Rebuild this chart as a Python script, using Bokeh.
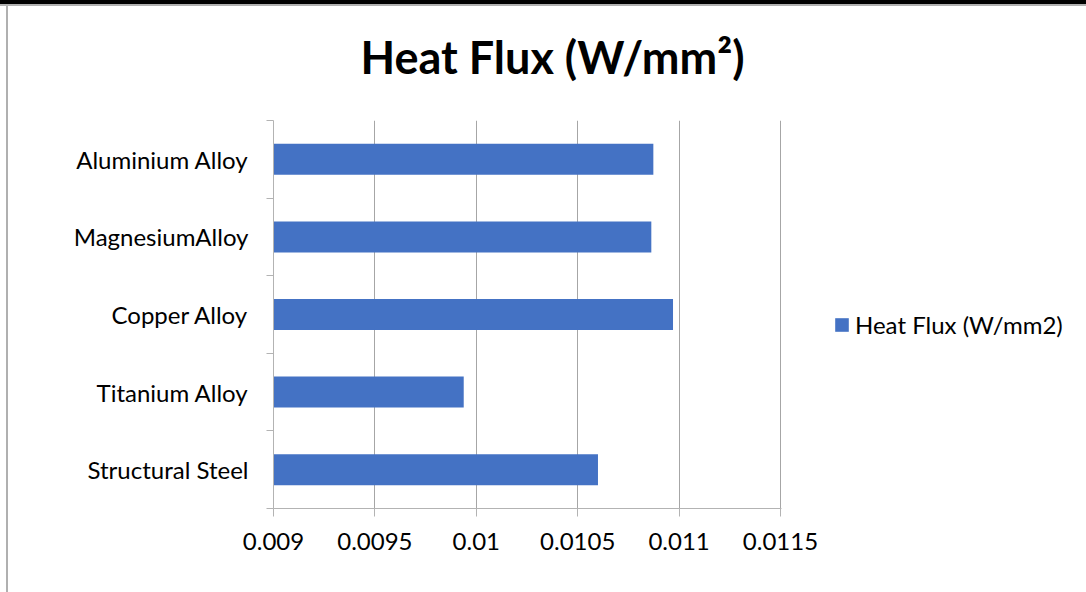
from bokeh.plotting import figure
from bokeh.models import (Range1d, FixedTicker, Legend, LegendItem,
                          ColumnDataSource, Title)
from bokeh.embed import file_html
from bokeh.resources import INLINE

# Heat flux per material (W/mm^2)
materials = ["Structural Steel", "Titanium Alloy", "Copper Alloy",
             "MagnesiumAlloy", "Aluminium Alloy"]
heat_flux = [0.01060, 0.009938, 0.01097, 0.010863, 0.010873]

x_ticks = [0.009, 0.0095, 0.01, 0.0105, 0.011, 0.0115]
x_tick_labels = ["0.009", "0.0095", "0.01", "0.0105", "0.011", "0.0115"]

title_text = "Heat Flux (W/mm\u00b2)"
series_name = "Heat Flux (W/mm2)"

FONT = "Lato"
BAR = "#4472C4"
GRID = "#a6a6a6"
AXIS = "#b3b3b3"

FRAME_W, FRAME_H = 508, 388
LEFT, RIGHT, TOP, BOTTOM = 273, 305, 120, 84
# one extra pixel of range so the last grid line stays inside the frame
x_pad = (x_ticks[-1] - x_ticks[0]) / (FRAME_W - 1)

p = figure(frame_width=FRAME_W, frame_height=FRAME_H, title=None,
           output_backend="svg", toolbar_location=None,
           x_range=Range1d(x_ticks[0], x_ticks[-1] + x_pad),
           y_range=Range1d(0, len(materials)),
           min_border_left=LEFT, min_border_right=RIGHT,
           min_border_top=TOP, min_border_bottom=BOTTOM)
p.outline_line_color = None
p.background_fill_color = "white"
p.border_fill_color = None
# page rules around the chart (top heavy rule, grey rule, left rule)
p.styles = {
    "background-color": "white",
    "background-image": ("linear-gradient(#000,#000), "
                         "linear-gradient(#b0b0b0,#b0b0b0), "
                         "linear-gradient(#b0b0b0,#b0b0b0)"),
    "background-size": "100% 4px, 100% 2px, 2px 100%",
    "background-position": "0 0, 0 4px, 6px 5px",
    "background-repeat": "no-repeat",
}

# blank spacer between the plot area and the title
p.add_layout(Title(text=" ", text_font_size="10px", standoff=22), "above")
p.add_layout(Title(text=title_text, text_font=FONT, text_font_style="bold",
                   text_font_size="45px", text_color="black",
                   align="left", vertical_align="top",
                   offset=87, standoff=0), "above")

positions = [i + 0.5 for i in range(len(materials))]
src = ColumnDataSource(dict(y=positions, right=heat_flux, name=materials))
bars = p.hbar(y="y", left=x_ticks[0], right="right", height=0.4,
              source=src, fill_color=BAR, line_color=None)

# x axis
p.xaxis.ticker = FixedTicker(ticks=x_ticks)
p.xaxis.major_label_overrides = dict(zip(x_ticks, x_tick_labels))
p.xaxis.axis_line_color = AXIS
p.xaxis.major_tick_line_color = AXIS
p.xaxis.major_tick_out = 8
p.xaxis.major_tick_in = 0
p.xaxis.minor_tick_line_color = None
p.xaxis.major_label_text_font = FONT
p.xaxis.major_label_text_font_size = "24px"
p.xaxis.major_label_text_color = "black"
p.xaxis.major_label_standoff = 16

# y axis: labels at category centres, ticks on category boundaries
p.yaxis.ticker = FixedTicker(ticks=positions,
                             minor_ticks=list(range(len(materials) + 1)))
p.yaxis.major_label_overrides = dict(zip(positions, materials))
p.yaxis.axis_line_color = AXIS
p.yaxis.major_tick_line_color = None
p.yaxis.minor_tick_line_color = AXIS
p.yaxis.minor_tick_out = 7
p.yaxis.minor_tick_in = 0
p.yaxis.major_label_text_font = FONT
p.yaxis.major_label_text_font_size = "24px"
p.yaxis.major_label_text_color = "black"
p.yaxis.major_label_standoff = 18

p.xgrid.ticker = FixedTicker(ticks=x_ticks)
p.xgrid.grid_line_color = GRID
p.ygrid.grid_line_color = None

legend = Legend(items=[LegendItem(label=series_name, renderers=[bars])],
                location=(52, 169), glyph_width=17, glyph_height=17,
                label_text_font=FONT, label_text_font_size="24px",
                label_text_color="black",
                label_standoff=5, background_fill_alpha=0,
                border_line_color=None, padding=0, margin=0)
p.add_layout(legend, "right")

open("out.html", "w").write(file_html(p, INLINE))
